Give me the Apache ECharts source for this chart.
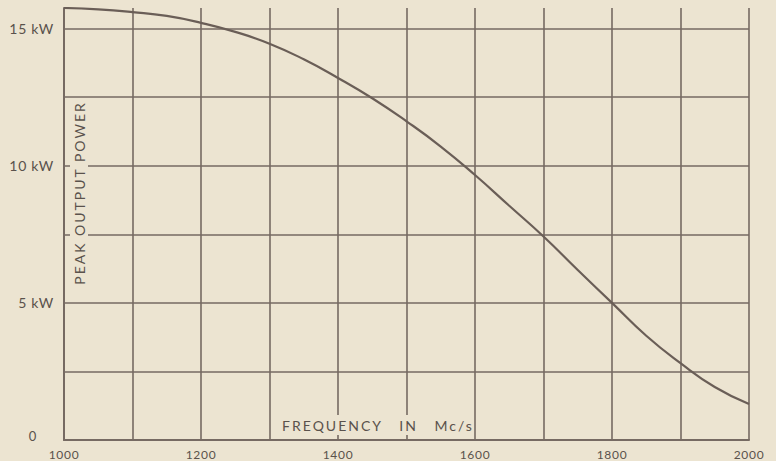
<!DOCTYPE html>
<html>
<head>
<meta charset="utf-8">
<script src="https://cdn.jsdelivr.net/npm/echarts@6/dist/echarts.min.js"></script>
<style>
html,body{margin:0;padding:0;background:#ece4d1;}
#c{width:776px;height:461px;}
#c text{letter-spacing:0.7px;}
#c text[style*="sans-serif"]{letter-spacing:2px;}
</style>
</head>
<body>
<div id="c"></div>
<script>
var frequency = [1000,1050,1100,1150,1200,1250,1300,1350,1400,1450,1500,1550,1600,1650,1700,1750,1800,1850,1900,1950,2000];
var peakPower = [15.75,15.7,15.6,15.46,15.21,14.88,14.45,13.88,13.2,12.46,11.62,10.7,9.66,8.54,7.42,6.2,5.0,3.8,2.8,1.93,1.31];
var xTickLabels = [1000,1200,1400,1600,1800,2000];
var yTickLabels = {0:'0',5:'5 kW',10:'10 kW',15:'15 kW'};
var yTitle = 'PEAK OUTPUT POWER';
var xTitle = 'FREQUENCY   IN   Mc/s';

var paper = '#ece4d1';
var ink = '#766a62';
var textInk = '#5a524c';
var font = 'Lato';
var titleFont = 'Lato, sans-serif';

var chart = echarts.init(document.getElementById('c'), null, {renderer:'svg'});
var pts = frequency.map(function(f,i){return [f, peakPower[i]];});
chart.setOption({
  backgroundColor: paper,
  animation: false,
  grid: {left:64, right:27, top:8, bottom:21, containLabel:false},
  xAxis: {
    type:'value', min:1000, max:2000, interval:100,
    axisLine:{show:true, lineStyle:{color:ink, width:2}},
    axisTick:{show:false},
    splitLine:{show:true, lineStyle:{color:ink, width:1.6}},
    axisLabel:{
      margin:8, color:textInk, fontFamily:font, fontSize:12,
      formatter:function(v){return xTickLabels.indexOf(v)>=0 ? String(v) : '';}
    }
  },
  yAxis: {
    type:'value', min:0, max:15.75, interval:2.5,
    axisLine:{show:true, lineStyle:{color:ink, width:2}},
    axisTick:{show:false},
    splitLine:{show:true, showMaxLine:false, lineStyle:{color:ink, width:1.6}},
    axisLabel:{
      margin:10, color:textInk, fontFamily:font, fontSize:14,
      formatter:function(v){
        if (v===0) return '{z|0}';
        return yTickLabels[v] !== undefined ? yTickLabels[v] : '';
      },
      rich:{z:{padding:[0,17,8,0], color:textInk, fontFamily:font, fontSize:13}}
    }
  },
  series: [{
    type:'line', data:pts, smooth:true, symbol:'none',
    lineStyle:{color:'#6a5e57', width:2.2}, z:5
  }],
  graphic: [
    {
      type:'text', x:79, y:193, rotation:Math.PI/2, z:10,
      style:{text:yTitle, fill:textInk, fontFamily:titleFont, fontSize:14, align:'center', verticalAlign:'middle',
             backgroundColor:paper, padding:[2,18]}
    },
    {
      type:'text', x:378, y:425, z:10,
      style:{text:xTitle, fill:textInk, fontFamily:titleFont, fontSize:14, align:'center', verticalAlign:'middle',
             backgroundColor:paper, padding:[3,18]}
    }
  ]
});
</script>
</body>
</html>
